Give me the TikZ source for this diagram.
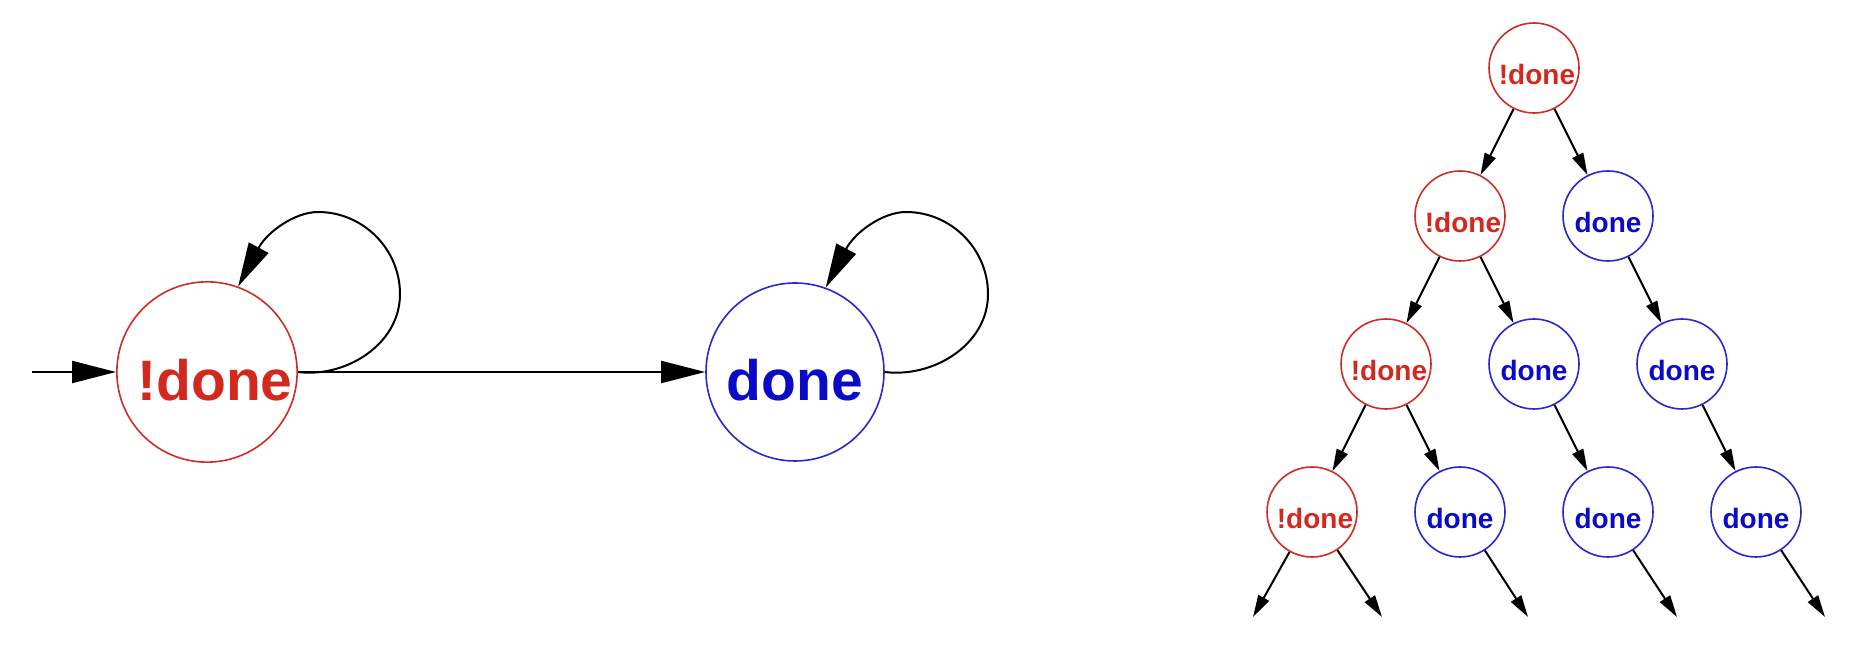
\documentclass[tikz,border=0pt]{standalone}
\usepackage{fontspec}
\setmainfont{Liberation Sans}
\usetikzlibrary{arrows.meta,calc}
\definecolor{sred}{RGB}{205,45,35}
\definecolor{tred}{RGB}{210,40,30}
\definecolor{sblue}{RGB}{40,40,205}
\definecolor{tblue}{RGB}{10,10,200}
\tikzset{
  bigstate/.style={circle,draw,line width=1.6pt,minimum size=178pt,inner sep=0pt,
    font=\fontsize{57}{57}\selectfont\bfseries,text height=58pt},
  smallstate/.style={circle,draw,line width=1.6pt,minimum size=90pt,inner sep=0pt,
    font=\fontsize{28}{28}\selectfont\bfseries,text height=33pt},
  notdone/.style={draw=sred,text=tred},
  isdone/.style={draw=sblue,text=tblue},
  bigarr/.style={line width=2pt,-{Triangle[length=44pt,width=22pt]}},
  smallarr/.style={line width=2pt,-{Triangle[length=22pt,width=12pt]}},
}
\begin{document}
\begin{tikzpicture}[x=1pt,y=1pt]
\useasboundingbox (0,0) rectangle (1864,650);
% left automaton
\node[bigstate,notdone] (ne) at (207,278) {\hspace*{16pt}!done};
\node[bigstate,isdone] (nd) at (795,278) {done};
\coordinate (init) at (32,278);
\draw[bigarr] (init) -- (ne.west);
\draw[bigarr] (ne.east) -- (nd.west);
\draw[bigarr] (ne.east) .. controls ($(ne.center)+(138,-6)$) and ($(ne.center)+(193,27)$) ..
  ($(ne.center)+(193,78)$) .. controls ($(ne.center)+(193,123)$) and ($(ne.center)+(156,160)$) ..
  ($(ne.center)+(111,160)$) .. controls ($(ne.center)+(88,160)$) and ($(ne.center)+(60,140)$) .. (ne.70);
\draw[bigarr] (nd.east) .. controls ($(nd.center)+(138,-6)$) and ($(nd.center)+(193,27)$) ..
  ($(nd.center)+(193,78)$) .. controls ($(nd.center)+(193,123)$) and ($(nd.center)+(156,160)$) ..
  ($(nd.center)+(111,160)$) .. controls ($(nd.center)+(88,160)$) and ($(nd.center)+(60,140)$) .. (nd.70);
% tree
\node[smallstate,notdone] (r) at (1534,582) {\hspace*{6pt}!done};
\node[smallstate,notdone] (a2) at (1460,434) {\hspace*{6pt}!done};
\node[smallstate,isdone] (b2) at (1608,434) {done};
\node[smallstate,notdone] (a3) at (1386,286) {\hspace*{6pt}!done};
\node[smallstate,isdone] (b3) at (1534,286) {done};
\node[smallstate,isdone] (c3) at (1682,286) {done};
\node[smallstate,notdone] (a4) at (1312,138) {\hspace*{6pt}!done};
\node[smallstate,isdone] (b4) at (1460,138) {done};
\node[smallstate,isdone] (c4) at (1608,138) {done};
\node[smallstate,isdone] (d4) at (1756,138) {done};
\coordinate (e1) at (1253,33);
\coordinate (e2) at (1382,33);
\coordinate (e3) at (1528,33);
\coordinate (e4) at (1677,33);
\coordinate (e5) at (1825,33);
\draw[smallarr] (r) -- (a2);
\draw[smallarr] (r) -- (b2);
\draw[smallarr] (a2) -- (a3);
\draw[smallarr] (a2) -- (b3);
\draw[smallarr] (b2) -- (c3);
\draw[smallarr] (a3) -- (a4);
\draw[smallarr] (a3) -- (b4);
\draw[smallarr] (b3) -- (c4);
\draw[smallarr] (c3) -- (d4);
\draw[smallarr] (a4) -- (e1);
\draw[smallarr] (a4) -- (e2);
\draw[smallarr] (b4) -- (e3);
\draw[smallarr] (c4) -- (e4);
\draw[smallarr] (d4) -- (e5);
\end{tikzpicture}
\end{document}
